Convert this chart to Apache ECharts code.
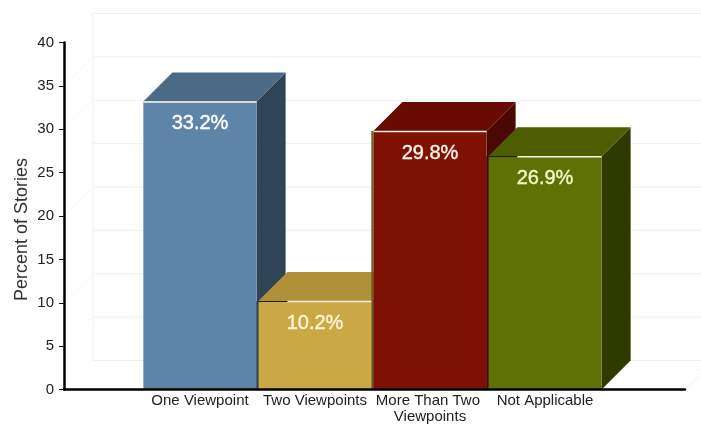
<!DOCTYPE html>
<html><head><meta charset="utf-8">
<style>html,body{margin:0;padding:0;background:#fff}#c{width:701px;height:424px}</style>
<script src="https://cdn.jsdelivr.net/npm/echarts@6/dist/echarts.min.js"></script>
</head><body><div id="c"></div>
<script>
const categories = ['One Viewpoint', 'Two Viewpoints', 'More Than Two Viewpoints', 'Not Applicable'];
const values = [33.2, 10.2, 29.8, 26.9];
const wallTicks = [0, 5, 10, 15, 20, 25, 30, 35, 40];
const yTitle = 'Percent of Stories';

const frontColors = ['#5e84a8', '#c9a845', '#7f1004', '#5f7006'];
const topColors = ['#4a6a85', '#b09038', '#680a02', '#4e5c02'];
const sideColors = ['#2f4456', '#6e5a24', '#4a0802', '#2e3a00'];
const labelColors = ['#ffffff', '#fff6d8', '#fff4ea', '#f4f8c4'];
const shadowedLeft = [false, true, false, true];
const DX = 29, DY = -29;

const chart = echarts.init(document.getElementById('c'));
chart.setOption({
  animation: false,
  backgroundColor: '#fff',
  textStyle: { fontFamily: 'Liberation Sans' },
  grid: [
    { left: 64, top: 42.5, width: 621, height: 347, outerBoundsMode: 'none' },
    { left: 142.5, top: 42.5, width: 460, height: 347, outerBoundsMode: 'none' }
  ],
  xAxis: [
    { gridIndex: 0, type: 'value', min: 0, max: 1, z: 5,
      axisLine: { show: true, onZero: false, lineStyle: { color: '#000', width: 2.5 } },
      axisTick: { show: false }, axisLabel: { show: false }, splitLine: { show: false } },
    { gridIndex: 1, type: 'category', data: categories,
      axisLine: { show: false }, axisTick: { show: false }, splitLine: { show: false },
      axisLabel: { interval: 0, margin: 3, fontSize: 15, color: '#222', lineHeight: 16, width: 116, overflow: 'break',
        fontFamily: 'Liberation Sans' } }
  ],
  yAxis: [
    { gridIndex: 0, type: 'value', min: 0, max: 40, interval: 5, z: 5,
      name: yTitle, nameLocation: 'middle', nameGap: 33, nameMoveOverlap: false,
      nameTextStyle: { fontSize: 18, color: '#333', padding: [0, 27, 0, 0], fontFamily: 'Liberation Sans' },
      axisLine: { show: true, lineStyle: { color: '#000', width: 2.5 } },
      axisTick: { show: true, length: 5, lineStyle: { color: '#111', width: 1 } },
      axisLabel: { fontSize: 15, color: '#222', margin: 10, fontFamily: 'Liberation Sans' },
      splitLine: { show: false } },
    { gridIndex: 1, type: 'value', min: 0, max: 40, show: false, splitLine: { show: false } }
  ],
  series: [
    { type: 'custom', name: 'wall', xAxisIndex: 0, yAxisIndex: 0, z: 1, silent: true,
      data: wallTicks.map(t => [0, t]),
      renderItem(params, api) {
        const p = api.coord([0, api.value(1)]);
        const end = api.coord([1, api.value(1)]);
        const children = [
          { type: 'line', shape: { x1: p[0], y1: p[1], x2: p[0] + DX, y2: p[1] + DY }, style: { stroke: '#f7f7f7', lineWidth: 1 } },
          { type: 'line', shape: { x1: p[0] + DX, y1: p[1] + DY, x2: end[0] + DX, y2: end[1] + DY }, style: { stroke: '#f0f0f0', lineWidth: 1 } }
        ];
        if (api.value(1) === 0) {
          const q = api.coord([0, 40]);
          children.push({ type: 'line', shape: { x1: p[0] + DX, y1: p[1] + DY, x2: q[0] + DX, y2: q[1] + DY }, style: { stroke: '#efefef', lineWidth: 1 } });
          children.push({ type: 'line', shape: { x1: end[0], y1: end[1], x2: end[0] + DX, y2: end[1] + DY }, style: { stroke: '#f0f0f0', lineWidth: 1 } });
        }
        return { type: 'group', children };
      } },
    { type: 'custom', name: 'Percent of Stories', xAxisIndex: 1, yAxisIndex: 1, z: 3, silent: true,
      data: values.map((v, i) => [i, v]),
      renderItem(params, api) {
        const i = api.value(0), v = api.value(1);
        const c = api.coord([i, v]), b = api.coord([i, 0]);
        const band = api.size([1, 0])[0], w = band * 0.985;
        const x0 = c[0] - w / 2, x1 = c[0] + w / 2, yt = c[1], yb = b[1];
        const poly = (points, fill) => ({ type: 'polygon', shape: { points }, style: { fill } });
        const children = [
          poly([[x1, yt], [x1 + DX, yt + DY], [x1 + DX, yb + DY], [x1, yb]], sideColors[i]),
          poly([[x0, yt], [x0 + DX, yt + DY], [x1 + DX, yt + DY], [x1, yt]], topColors[i]),
          poly([[x0, yt], [x1, yt], [x1, yb], [x0, yb]], frontColors[i]),
          { type: 'line', shape: { x1: shadowedLeft[i] ? x0 + DX : x0, y1: yt + 0.5, x2: x1, y2: yt + 0.5 },
            style: { stroke: '#f6f4e8', lineWidth: 1.5 } }
        ];
        if (shadowedLeft[i]) {
          children.push({ type: 'line', shape: { x1: x0, y1: yt + 0.5, x2: x0 + DX, y2: yt + 0.5 }, style: { stroke: '#1c1c10', lineWidth: 1 } });
        }
        if (i > 0) {
          children.push({ type: 'rect', shape: { x: x0 - 2, y: yt, width: 2, height: yb - yt }, style: { fill: sideColors[i - 1] } });
        }
        children.push({ type: 'text', style: {
          text: v.toFixed(1) + '%', x: c[0], y: yt + 22, align: 'center', verticalAlign: 'middle',
          fill: labelColors[i], stroke: labelColors[i], lineWidth: 0.4, font: '20px "Liberation Sans"' } });
        return { type: 'group', children };
      } }
  ]
});
</script></body></html>
